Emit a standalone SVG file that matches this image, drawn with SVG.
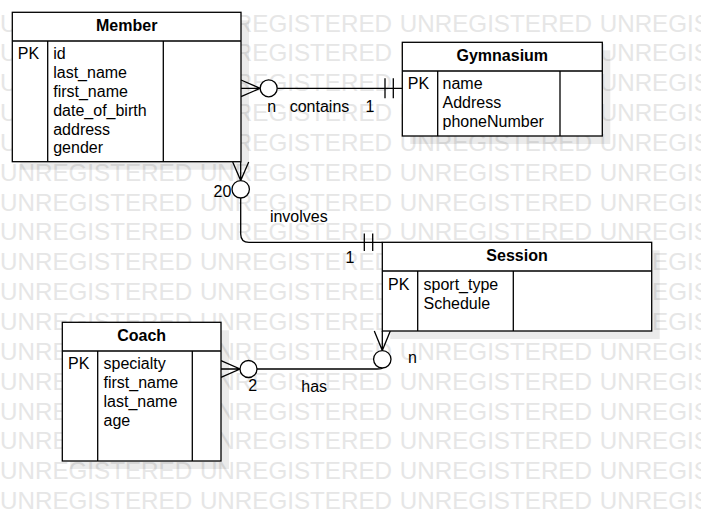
<svg xmlns="http://www.w3.org/2000/svg" width="701" height="511" viewBox="0 0 701 511">
<style>
text{font-family:"Liberation Sans",Arial,Helvetica,sans-serif;font-size:16px;fill:#000}
.wm{font-size:24.2px;fill:#e6e6e6;word-spacing:1px}
.hd{font-weight:bold;text-anchor:middle}
.mid{text-anchor:middle}
.box{fill:#fff;stroke:#000;stroke-width:1.3}
.sh{fill:#000;opacity:0.08}
.ln{fill:none;stroke:#000;stroke-width:1.3}
.ci{fill:#fff;stroke:#000;stroke-width:1.3}
</style>
<rect width="701" height="511" fill="#fff"/>
<g id="watermark">
<text class="wm" x="0" y="31.5">UNREGISTERED UNREGISTERED UNREGISTERED UNREGISTERED</text>
<text class="wm" x="0" y="61.35">UNREGISTERED UNREGISTERED UNREGISTERED UNREGISTERED</text>
<text class="wm" x="0" y="91.2">UNREGISTERED UNREGISTERED UNREGISTERED UNREGISTERED</text>
<text class="wm" x="0" y="121.05">UNREGISTERED UNREGISTERED UNREGISTERED UNREGISTERED</text>
<text class="wm" x="0" y="150.9">UNREGISTERED UNREGISTERED UNREGISTERED UNREGISTERED</text>
<text class="wm" x="0" y="180.75">UNREGISTERED UNREGISTERED UNREGISTERED UNREGISTERED</text>
<text class="wm" x="0" y="210.6">UNREGISTERED UNREGISTERED UNREGISTERED UNREGISTERED</text>
<text class="wm" x="0" y="240.45">UNREGISTERED UNREGISTERED UNREGISTERED UNREGISTERED</text>
<text class="wm" x="0" y="270.3">UNREGISTERED UNREGISTERED UNREGISTERED UNREGISTERED</text>
<text class="wm" x="0" y="300.15">UNREGISTERED UNREGISTERED UNREGISTERED UNREGISTERED</text>
<text class="wm" x="0" y="330">UNREGISTERED UNREGISTERED UNREGISTERED UNREGISTERED</text>
<text class="wm" x="0" y="359.85">UNREGISTERED UNREGISTERED UNREGISTERED UNREGISTERED</text>
<text class="wm" x="0" y="389.7">UNREGISTERED UNREGISTERED UNREGISTERED UNREGISTERED</text>
<text class="wm" x="0" y="419.55">UNREGISTERED UNREGISTERED UNREGISTERED UNREGISTERED</text>
<text class="wm" x="0" y="449.4">UNREGISTERED UNREGISTERED UNREGISTERED UNREGISTERED</text>
<text class="wm" x="0" y="479.25">UNREGISTERED UNREGISTERED UNREGISTERED UNREGISTERED</text>
<text class="wm" x="0" y="509.1">UNREGISTERED UNREGISTERED UNREGISTERED UNREGISTERED</text>
</g>
<g id="shadows">
<rect class="sh" x="20.3" y="20.3" width="228.7" height="149.4"/>
<rect class="sh" x="410.3" y="50.3" width="200" height="93.7"/>
<rect class="sh" x="390.3" y="250.3" width="269.4" height="88.7"/>
<rect class="sh" x="70.3" y="330.3" width="158.7" height="138.7"/>
</g>
<g id="connectors">
<g id="contains">
<path class="ln" d="M241,80 L260.2,88.3 L241,96.6 M241,88.3 H260.2 M277.2,88.3 H402.3 M385,78.3 V98.3 M393.3,78.3 V98.3"/>
<circle class="ci" cx="268.7" cy="88.3" r="8.5"/>
</g>
<g id="involves">
<path class="ln" d="M232.7,162 L240.7,180.6 L248.7,162 M240.7,162 V180.6 M240.7,198 V234 Q240.7,242.3 249,242.3 H382.3 M364.3,233.5 V251 M372.7,233.5 V251"/>
<circle class="ci" cx="240.7" cy="189.3" r="8.7"/>
</g>
<g id="has">
<path class="ln" d="M221,360.7 L240,369 L221,377.3 M221,369 H240 M257,369 H377 Q382.3,369 382.3,367.8 M374.3,331 L382.3,350.6 L390.3,331 M382.3,331 V350.6"/>
<circle class="ci" cx="248.5" cy="369" r="8.5"/>
<circle class="ci" cx="382.3" cy="359.3" r="8.7"/>
</g>
<text class="mid" x="271.7" y="112">n</text>
<text class="mid" x="319.5" y="112">contains</text>
<text class="mid" x="370" y="112">1</text>
<text class="mid" x="222.4" y="197.3">20</text>
<text class="mid" x="298.8" y="222.3">involves</text>
<text class="mid" x="350" y="263.3">1</text>
<text class="mid" x="412.5" y="363.3">n</text>
<text class="mid" x="252.8" y="390.7">2</text>
<text class="mid" x="314.2" y="391.5">has</text>
</g>
<g id="member">
<rect class="box" x="12.3" y="12.3" width="228.7" height="149.4"/>
<path class="ln" d="M12.3,41 H241 M47.7,41 V161.7 M163.3,41 V161.7"/>
<text class="hd" x="126.7" y="30.7">Member</text>
<text x="17.8" y="59.3">PK</text>
<text x="53.2" y="59.3">id</text>
<text x="53.2" y="78.1">last_name</text>
<text x="53.2" y="96.9">first_name</text>
<text x="53.2" y="115.7">date_of_birth</text>
<text x="53.2" y="134.5">address</text>
<text x="53.2" y="153.3">gender</text>
</g>
<g id="gymnasium">
<rect class="box" x="402.3" y="42.3" width="200" height="93.7"/>
<path class="ln" d="M402.3,71 H602.3 M437.7,71 V136 M560,71 V136"/>
<text class="hd" x="502.3" y="60.7">Gymnasium</text>
<text x="407.8" y="89.3">PK</text>
<text x="442.5" y="89.3">name</text>
<text x="442.5" y="108.1">Address</text>
<text x="442.5" y="126.9">phoneNumber</text>
</g>
<g id="session">
<rect class="box" x="382.3" y="242.3" width="269.4" height="88.7"/>
<path class="ln" d="M382.3,271 H651.7 M417.7,271 V331 M513.3,271 V331"/>
<text class="hd" x="517" y="260.7">Session</text>
<text x="388.1" y="290">PK</text>
<text x="423.5" y="290">sport_type</text>
<text x="423.5" y="308.8">Schedule</text>
</g>
<g id="coach">
<rect class="box" x="62.3" y="322.3" width="158.7" height="138.7"/>
<path class="ln" d="M62.3,351 H221 M97.7,351 V461 M192.3,351 V461"/>
<text class="hd" x="141.7" y="340.7">Coach</text>
<text x="68.1" y="369.3">PK</text>
<text x="103.5" y="369.3">specialty</text>
<text x="103.5" y="388.1">first_name</text>
<text x="103.5" y="406.9">last_name</text>
<text x="103.5" y="425.7">age</text>
</g>
</svg>
